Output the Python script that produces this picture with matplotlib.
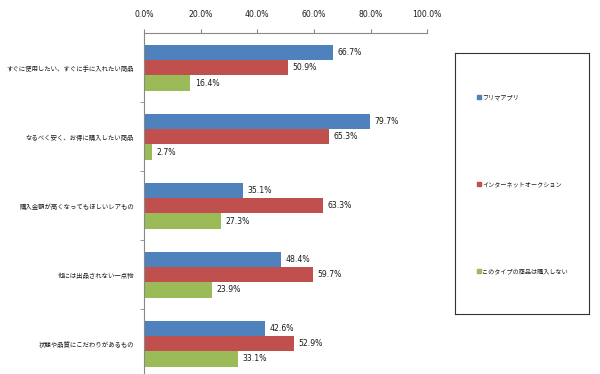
import matplotlib.pyplot as plt
import numpy as np

plt.rcParams['font.family'] = ['Noto Sans CJK JP', 'DejaVu Sans']

# data
categories = ["すぐに使用したい、すぐに手に入れたい商品",
              "なるべく安く、お得に購入したい商品",
              "購入金額が高くなってもほしいレアもの",
              "他には出品されない一点物",
              "状態や品質にこだわりがあるもの"]
series_names = ["フリマアプリ", "インターネットオークション", "このタイプの商品は購入しない"]
flea = [66.7, 79.7, 35.1, 48.4, 42.6]
auction = [50.9, 65.3, 63.3, 59.7, 52.9]
none_buy = [16.4, 2.7, 27.3, 23.9, 33.1]
colors = ["#4F81BD", "#C0504D", "#9BBB59"]

fig = plt.figure(figsize=(6, 3.74), dpi=100)
ax = fig.add_axes([0.24, -0.011, 0.472, 0.922])

y = np.arange(len(categories))
h = 0.222
for i, (vals, c, name) in enumerate(zip([flea, auction, none_buy], colors, series_names)):
    pos = y + (i - 1) * h
    ax.barh(pos, vals, h, color=c, label=name)
    for p, v in zip(pos, vals):
        ax.text(v + 1.6, p, f"{v:.1f}%", va='center', ha='left', fontsize=5.6, color='#1a1a1a',
                family='DejaVu Sans')

ax.set_xlim(0, 100)
ax.set_ylim(len(categories) - 0.5, -0.5)
ax.xaxis.tick_top()
ax.set_xticks(np.arange(0, 101, 20))
ax.set_xticklabels([f"{t:.1f}%" for t in range(0, 101, 20)], fontsize=5.6, family='DejaVu Sans',
                   color='#1a1a1a')
ax.tick_params(axis='x', length=3, color='#888888', pad=7)
ax.set_yticks(y)
ax.set_yticklabels(categories, fontsize=4.6, color='#1a1a1a')
ax.tick_params(axis='y', length=0, pad=7)
ax.set_yticks(np.arange(0.5, len(categories) - 0.5, 1), minor=True)
ax.tick_params(axis='y', which='minor', length=3, color='#888888')
for s in ['right', 'bottom']:
    ax.spines[s].set_visible(False)
for s in ['top', 'left']:
    ax.spines[s].set_color('#888888')

# legend box on the right
lax = fig.add_axes([455 / 600, 1 - 314 / 374, 134 / 600, 261 / 374])
lax.set_xticks([])
lax.set_yticks([])
for s in lax.spines.values():
    s.set_color('#333333')
    s.set_linewidth(0.8)
lax.set_xlim(0, 134)
lax.set_ylim(261, 0)
for k, (name, c) in enumerate(zip(series_names, colors)):
    yy = 44 + k * 87
    lax.scatter([24], [yy], marker='s', s=7, color=c)
    lax.text(27, yy, name, va='center', ha='left', fontsize=4.4, color='#1a1a1a')

fig.savefig("out.png", dpi=100)
